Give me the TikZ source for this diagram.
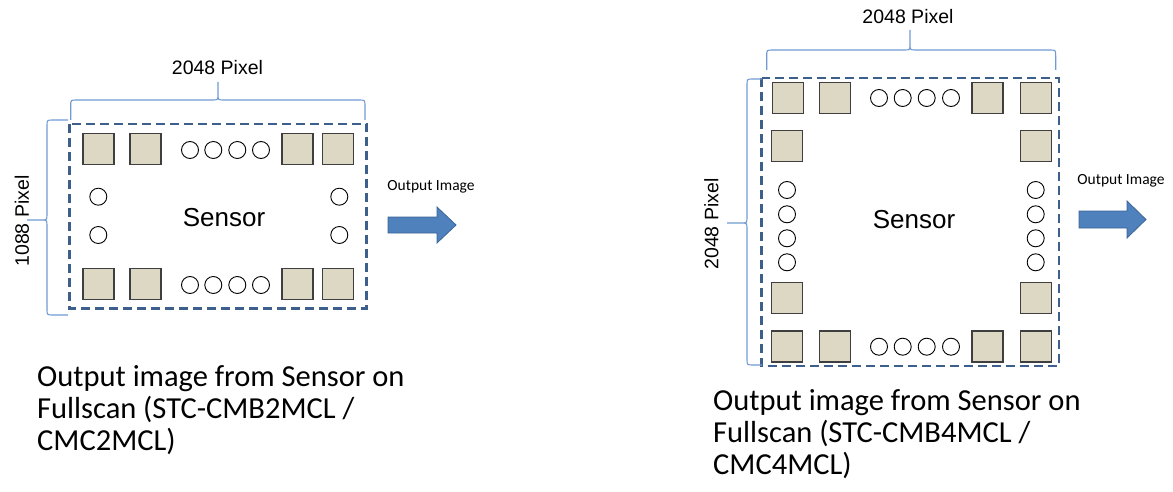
\documentclass[tikz,border=0pt]{standalone}
\usepackage{fontspec}
\setmainfont{Carlito}
\newfontfamily\arialf{Liberation Sans}
\definecolor{bracecol}{HTML}{6F9AD2}
\definecolor{dashcol}{HTML}{3C5F8C}
\definecolor{sqfill}{HTML}{DDD8C3}
\definecolor{sqdraw}{HTML}{3F3F3F}
\definecolor{arrfill}{HTML}{4F81BD}
\definecolor{arrdraw}{HTML}{3A6496}
\tikzset{
  br/.style={draw=bracecol, line width=1.1pt},
  sensorbox/.style={draw=dashcol, line width=2.6pt, dash pattern=on 9pt off 5pt},
  pad/.style={draw=sqdraw, fill=sqfill, line width=1.6pt, minimum size=31pt, inner sep=0pt, rectangle},
  dot/.style={draw=black, fill=white, line width=0.9pt, circle, minimum size=17pt, inner sep=0pt},
  dimtext/.style={font=\arialf\fontsize{19.5}{22}\selectfont, inner sep=0pt},
  senstext/.style={font=\arialf\fontsize{26}{30}\selectfont, inner sep=0pt},
  outtext/.style={font=\fontsize{15.5}{18}\selectfont, inner sep=0pt, anchor=base},
  caption/.style={font=\fontsize{30.5}{32}\selectfont, inner sep=0pt, anchor=base west, align=left},
  bigarrow/.style={fill=arrfill, draw=arrdraw, line width=0.8pt}
}
\begin{document}
\begin{tikzpicture}[x=1pt,y=-1pt]
\useasboundingbox (0,0) rectangle (1173,492);
% ================= LEFT DIAGRAM =================
\draw[sensorbox] (69.3,124) rectangle (366.7,308.3);
% top brace
\draw[br] (70.7,120) -- (70.7,106) .. controls (70.7,100) .. (76.7,100) -- (212,100)
  .. controls (218,100) .. (218,94) -- (218,82) -- (218,94)
  .. controls (218,100) .. (224,100) -- (359,100) .. controls (365,100) .. (365,106) -- (365,120);
% left brace
\draw[br] (68,120) -- (53,120) .. controls (47,120) .. (47,126) -- (47,214)
  .. controls (47,220) .. (41,220) -- (27,220) -- (41,220)
  .. controls (47,220) .. (47,226) -- (47,309) .. controls (47,315) .. (53,315) -- (68,315);
\node[dimtext] (lw) at (217.5,68) {2048 Pixel};
\node[dimtext, rotate=90] (lh) at (22,221) {1088 Pixel};
% pads
\node[pad] (la1) at (98.3,149) {};
\node[pad] (la2) at (145.5,149) {};
\node[pad] (la3) at (297.5,149) {};
\node[pad] (la4) at (337.8,149) {};
\node[pad] (lb1) at (98.3,284) {};
\node[pad] (lb2) at (145.5,284) {};
\node[pad] (lb3) at (297.5,284) {};
\node[pad] (lb4) at (337.8,284) {};
% dots
\foreach \x [count=\i] in {190,213.3,237.3,261}{
  \node[dot] (lt\i) at (\x,150) {};
  \node[dot] (lbd\i) at (\x,285) {};
}
\node[dot] (ll1) at (98.3,196.7) {};
\node[dot] (ll2) at (98.3,235) {};
\node[dot] (lr1) at (339.3,196.7) {};
\node[dot] (lr2) at (339.3,235) {};
\node[senstext] (ls) at (224,217.5) {Sensor};
\node[outtext] (lo) at (431,190.7) {Output Image};
\draw[bigarrow] (388,217) -- (437,217) -- (437,207) -- (456,225) -- (437,243) -- (437,233) -- (388,233) -- cycle;
\node[caption] (lc) at (37,450.5) {Output image from Sensor on\\Fullscan (STC-CMB2MCL /\\CMC2MCL)};
% ================= RIGHT DIAGRAM =================
\draw[sensorbox] (761.7,78) rectangle (1059,366);
% top brace
\draw[br] (766.7,70) -- (766.7,56) .. controls (766.7,50) .. (772.7,50) -- (904,50)
  .. controls (910,50) .. (910,44) -- (910,30) -- (910,44)
  .. controls (910,50) .. (916,50) -- (1049.7,50) .. controls (1055.7,50) .. (1055.7,56) -- (1055.7,70);
% left brace
\draw[br] (762,79) -- (753,79) .. controls (747,79) .. (747,85) -- (747,217)
  .. controls (747,223) .. (741,223) -- (727,223) -- (741,223)
  .. controls (747,223) .. (747,229) -- (747,359) .. controls (747,365) .. (753,365) -- (762,365);
\node[dimtext] (rw) at (908,16.3) {2048 Pixel};
\node[dimtext, rotate=90] (rh) at (711.5,224) {2048 Pixel};
% pads
\node[pad] (ra1) at (788,98) {};
\node[pad] (ra2) at (835,98) {};
\node[pad] (ra3) at (987.5,98) {};
\node[pad] (ra4) at (1036,98) {};
\node[pad] (rb1) at (787,146) {};
\node[pad] (rb2) at (1036,146) {};
\node[pad] (rc1) at (787,298) {};
\node[pad] (rc2) at (1036,298) {};
\node[pad] (rd1) at (787,346.5) {};
\node[pad] (rd2) at (835,346.5) {};
\node[pad] (rd3) at (987.5,346.5) {};
\node[pad] (rd4) at (1036,346.5) {};
% dots
\foreach \x [count=\i] in {879,902.7,926.7,951}{
  \node[dot] (rt\i) at (\x,98) {};
  \node[dot] (rbd\i) at (\x,346.7) {};
}
\foreach \y [count=\i] in {190,214.3,238.3,262.3}{
  \node[dot] (rl\i) at (787,\y) {};
  \node[dot] (rr\i) at (1035.7,\y) {};
}
\node[senstext] (rs) at (914,219.7) {Sensor};
\node[outtext] (ro) at (1121,185) {Output Image};
\draw[bigarrow] (1079,211) -- (1127,211) -- (1127,201) -- (1146,219.5) -- (1127,238) -- (1127,228) -- (1079,228) -- cycle;
\node[caption] (rc) at (713,474) {Output image from Sensor on\\Fullscan (STC-CMB4MCL /\\CMC4MCL)};
\end{tikzpicture}
\end{document}
